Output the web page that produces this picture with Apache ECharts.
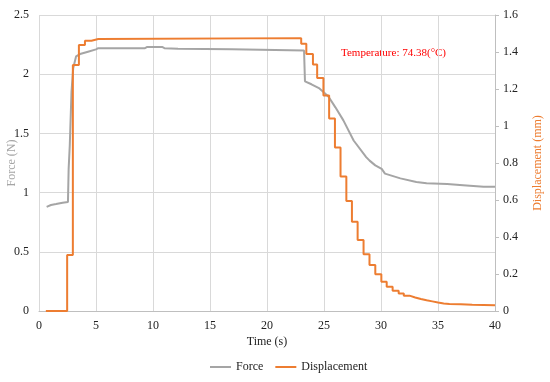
<!DOCTYPE html>
<html>
<head>
<meta charset="utf-8">
<script src="https://cdn.jsdelivr.net/npm/echarts@6/dist/echarts.min.js"></script>
<style>html,body{margin:0;padding:0;background:#fff}#c{width:550px;height:382px}</style>
</head>
<body>
<div id="c"></div>
<script>
// Force (N) vs time (s)
var forceTime  = [0.67, 1.05, 1.5, 2.07, 2.54, 2.6, 2.7, 2.85, 3.0, 3.25, 3.6, 4.3, 5.0, 5.2, 9.3, 9.5, 10.8, 11.0, 12.2, 16.9, 17.0, 23.25, 23.33, 23.9, 24.6, 24.95, 25.4, 26.0, 26.7, 27.6, 28.7, 29.0, 29.5, 30.06, 30.35, 31.7, 33.1, 34.0, 35.8, 37.2, 39.0, 40.0];
var forceValue = [0.88, 0.895, 0.903, 0.914, 0.92, 1.2, 1.4, 1.85, 2.05, 2.15, 2.17, 2.19, 2.21, 2.22, 2.22, 2.23, 2.23, 2.22, 2.215, 2.21, 2.20, 2.20, 1.94, 1.915, 1.88, 1.85, 1.81, 1.72, 1.61, 1.44, 1.30, 1.27, 1.23, 1.20, 1.16, 1.12, 1.09, 1.078, 1.072, 1.063, 1.049, 1.049];
// Displacement (mm) vs time (s), stepwise: each level starts at the given time
var dispTime  = [0.6, 2.47, 2.97, 3.5, 4.03, 4.6, 5.2, 23.0, 23.45, 24.03, 24.4, 24.95, 25.45, 25.96, 26.45, 26.96, 27.45, 27.95, 28.47, 28.99, 29.5, 30.03, 30.5, 31.02, 31.55, 32.0, 32.5, 33.0, 33.5, 34.0, 34.5, 35.0, 35.5, 36.0, 37.0, 38.0, 39.0, 40.0];
var dispValue = [0, 0.303, 1.33, 1.438, 1.461, 1.47, 1.475, 1.445, 1.389, 1.333, 1.26, 1.165, 1.04, 0.884, 0.727, 0.594, 0.482, 0.384, 0.307, 0.249, 0.198, 0.158, 0.131, 0.109, 0.094, 0.083, 0.073, 0.065, 0.058, 0.052, 0.046, 0.041, 0.038, 0.036, 0.034, 0.033, 0.031, 0.029];
var seriesNames = ['Force', 'Displacement'];
var annotation = 'Temperature: 74.38(°C)';

function pairs(xs, ys) { return xs.map(function (x, i) { return [x, ys[i]]; }); }

var font = 'Liberation Serif, Times New Roman, serif';
var chart = echarts.init(document.getElementById('c'), null, {renderer: 'canvas'});
chart.setOption({
  animation: false,
  backgroundColor: '#fff',
  textStyle: {fontFamily: font},
  grid: {left: 39, right: 55, top: 15, bottom: 71, containLabel: false, outerBoundsMode: 'none'},
  legend: {
    data: seriesNames,
    left: 210, top: 361, padding: 0,
    icon: 'rect', itemWidth: 21, itemHeight: 2, itemGap: 12,
    textStyle: {fontFamily: font, fontSize: 12, color: '#222'}
  },
  graphic: [{
    type: 'text', left: 341, top: 48,
    style: {text: annotation, fill: '#FF0000', font: '11px ' + font}
  }],
  xAxis: {
    type: 'value', min: 0, max: 40, interval: 5,
    name: 'Time (s)', nameLocation: 'middle', nameGap: 25, nameMoveOverlap: false,
    nameTextStyle: {fontFamily: font, fontSize: 12, color: '#222'},
    axisLine: {show: true, lineStyle: {color: '#bfbfbf', width: 1}},
    axisTick: {show: false},
    axisLabel: {fontFamily: font, fontSize: 12, color: '#222', margin: 9},
    splitLine: {show: true, lineStyle: {color: '#d9d9d9', width: 1}}
  },
  yAxis: [{
    type: 'value', min: 0, max: 2.5, interval: 0.5, position: 'left',
    name: 'Force (N)', nameLocation: 'middle', nameGap: 21, nameMoveOverlap: false,
    nameTextStyle: {fontFamily: font, fontSize: 12, color: '#a5a5a5'},
    axisLine: {show: false}, axisTick: {show: false},
    axisLabel: {fontFamily: font, fontSize: 12, color: '#222', margin: 10},
    splitLine: {show: true, lineStyle: {color: '#d9d9d9', width: 1}}
  }, {
    type: 'value', min: 0, max: 1.6, interval: 0.2, position: 'right',
    name: 'Displacement (mm)', nameLocation: 'middle', nameGap: 37, nameMoveOverlap: false,
    nameTextStyle: {fontFamily: font, fontSize: 12, color: '#ED7D31'},
    axisLine: {show: true, lineStyle: {color: '#bfbfbf', width: 1}},
    axisTick: {show: true, length: 4, lineStyle: {color: '#bfbfbf'}},
    axisLabel: {fontFamily: font, fontSize: 12, color: '#222', margin: 8},
    splitLine: {show: false}
  }],
  series: [{
    name: seriesNames[0], type: 'line', yAxisIndex: 0,
    data: pairs(forceTime, forceValue),
    showSymbol: false, symbol: 'none',
    itemStyle: {color: '#A5A5A5'},
    lineStyle: {color: '#A5A5A5', width: 2}
  }, {
    name: seriesNames[1], type: 'line', yAxisIndex: 1, step: 'end',
    data: pairs(dispTime, dispValue),
    showSymbol: false, symbol: 'none',
    itemStyle: {color: '#ED7D31'},
    lineStyle: {color: '#ED7D31', width: 2}
  }]
});
</script>
</body>
</html>
